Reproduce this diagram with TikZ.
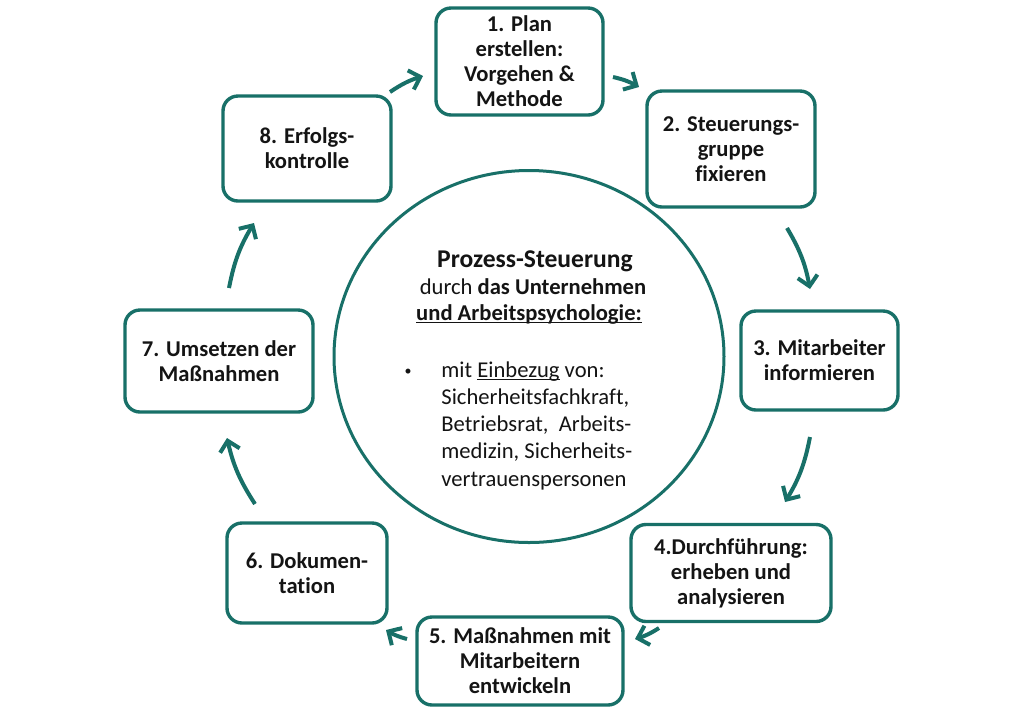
\documentclass[tikz,border=0pt]{standalone}
\usepackage{fontspec}
\setmainfont{Carlito}[Ligatures={NoCommon}]
\usetikzlibrary{arrows.meta,shapes.geometric}
\definecolor{tealc}{RGB}{24,112,104}
\definecolor{txt}{RGB}{20,20,20}
\newcommand\myul[1]{\setbox0\hbox{#1}\rlap{\rule[-1.6pt]{\wd0}{0.8pt}}#1}
\begin{document}
\begin{tikzpicture}[x=0.5pt,y=-0.5pt,
  box/.style={draw=tealc, line width=1.7pt, rounded corners=7.5pt, align=center,
    text=txt, font=\bfseries\fontsize{11.3}{12.5}\selectfont, inner sep=0pt},
  flow/.style={draw=tealc, line width=2pt, -{Straight Barb[length=5pt,width=10pt]}},
  ctext/.style={text=txt, inner sep=0pt, font=\fontsize{11.3}{13.5}\selectfont}]
\useasboundingbox (0,0) rectangle (1024,714);
\fill[white] (0,0) rectangle (1024,714);

% centre ellipse
\node[ellipse, draw=tealc, line width=1.5pt, minimum width=195pt, minimum height=186pt, inner sep=0pt] (circ) at (529,356.5) {};

% boxes
\node[box, minimum width=83.5pt, minimum height=53.5pt] (b1) at (519.5,61.5) {1. Plan\\erstellen:\\Vorgehen \&\\Methode};
\node[box, minimum width=84pt, minimum height=58pt] (b2) at (731,149) {2. Steuerungs-\\gruppe\\fixieren};
\node[box, minimum width=78.5pt, minimum height=49.5pt] (b3) at (819.5,360.5) {3. Mitarbeiter\\informieren};
\node[box, minimum width=100pt, minimum height=48.5pt] (b4) at (731,573) {4.Durchführung:\\erheben und\\analysieren};
\node[box, minimum width=103pt, minimum height=44pt] (b5) at (520,661) {5. Maßnahmen mit\\Mitarbeitern\\entwickeln};
\node[box, minimum width=80pt, minimum height=50pt] (b6) at (307,573) {6. Dokumen-\\tation};
\node[box, minimum width=94pt, minimum height=51pt] (b7) at (219,361) {7. Umsetzen der\\Maßnahmen};
\node[box, minimum width=84pt, minimum height=52.5pt] (b8) at (307,148.5) {8. Erfolgs-\\kontrolle};

% centre text
\node[ctext, anchor=base, font=\bfseries\fontsize{12.8}{14}\selectfont] (h1) at (535,267) {Prozess-Steuerung};
\node[ctext, anchor=base] (h2) at (533,294) {durch \textbf{das Unternehmen}};
\node[ctext, anchor=base] (h3) at (529,320) {\textbf{\myul{und Arbeitspsychologie:}}};
\node[ctext, anchor=center, font=\fontsize{7}{8}\selectfont] (bul) at (408,372) {•};
\node[ctext, anchor=base west] (l1) at (441,377) {mit \myul{Einbezug} von:};
\node[ctext, anchor=base west] (l2) at (441,404) {Sicherheitsfachkraft,};
\node[ctext, anchor=base west] (l3) at (441,431) {Betriebsrat,\ \ Arbeits-};
\node[ctext, anchor=base west] (l4) at (441,458) {medizin, Sicherheits-};
\node[ctext, anchor=base west] (l5) at (441,486) {vertrauenspersonen};

% arrow end points
\coordinate (t81) at (390,92);  \coordinate (e81) at (423,76);
\coordinate (t12) at (613,77);  \coordinate (e12) at (639,87);
\coordinate (t23) at (787,228); \coordinate (e23) at (810,289);
\coordinate (t34) at (810,437); \coordinate (e34) at (785,502);
\coordinate (t45) at (659,628); \coordinate (e45) at (635,639);
\coordinate (t56) at (407,639); \coordinate (e56) at (386,630);
\coordinate (t67) at (255,504); \coordinate (e67) at (227,438);
\coordinate (t78) at (229,288); \coordinate (e78) at (254,223);

\draw[flow] (t81) to[bend left=8] (e81);
\draw[flow] (t12) to[bend left=8] (e12);
\draw[flow] (t23) to[bend left=10] (e23);
\draw[flow] (t34) to[bend left=10] (e34);
\draw[flow] (t45) to[bend left=8] (e45);
\draw[flow] (t56) to[bend left=8] (e56);
\draw[flow] (t67) to[bend left=10] (e67);
\draw[flow] (t78) to[bend left=10] (e78);
\end{tikzpicture}
\end{document}
